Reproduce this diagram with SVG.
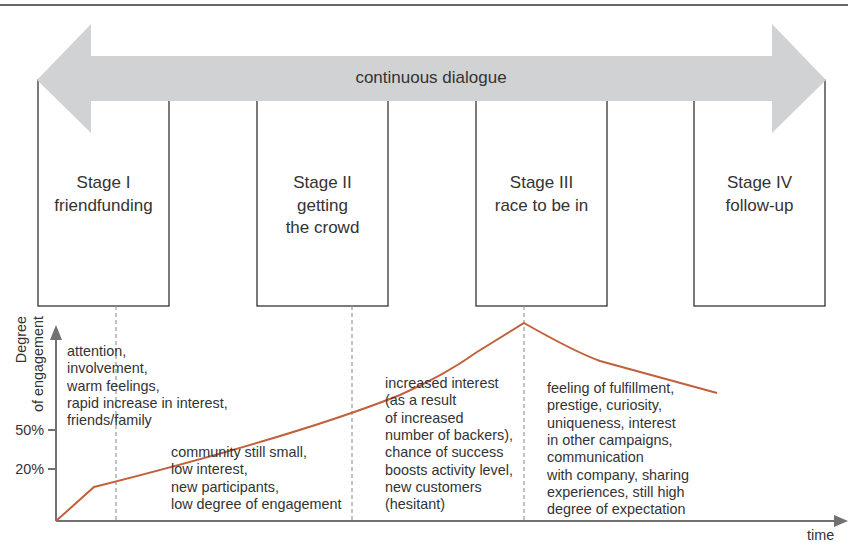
<svg xmlns="http://www.w3.org/2000/svg" width="848" height="558" viewBox="0 0 848 558">
<style>
text{font-family:"Liberation Sans",Arial,sans-serif;fill:#333}
.stage{font-size:17px;text-anchor:middle}
.small{font-size:14.4px}
.box{fill:#fff;stroke:#333;stroke-width:1.3}
.dash{stroke:#9a9a9a;stroke-width:1.2;stroke-dasharray:4,3;fill:none}
.axis{stroke:#707173;stroke-width:2;fill:none}
</style>
<rect width="848" height="558" fill="#fff"/>
<line x1="0" y1="5" x2="848" y2="5" stroke="#333" stroke-width="1.5"/>

<g id="stage1"><rect class="box" x="38" y="80" width="131" height="226"/>
<text class="stage"><tspan x="103.5" y="188">Stage I</tspan><tspan x="103.5" y="211">friendfunding</tspan></text></g>
<g id="stage2"><rect class="box" x="257" y="80" width="131" height="226"/>
<text class="stage"><tspan x="322.5" y="188">Stage II</tspan><tspan x="322.5" y="211">getting</tspan><tspan x="322.5" y="233">the crowd</tspan></text></g>
<g id="stage3"><rect class="box" x="476" y="80" width="131" height="226"/>
<text class="stage"><tspan x="541.5" y="188">Stage III</tspan><tspan x="541.5" y="211">race to be in</tspan></text></g>
<g id="stage4"><rect class="box" x="694" y="80" width="131" height="226"/>
<text class="stage"><tspan x="759.5" y="188">Stage IV</tspan><tspan x="759.5" y="211">follow-up</tspan></text></g>

<g id="dialogue">
<polygon points="37,80 91,24 91,56 772,56 772,24 826,80 772,133 772,101 91,101 91,133" fill="#d1d2d4"/>
<text x="431" y="83" font-size="17" text-anchor="middle">continuous dialogue</text>
</g>

<g id="connectors">
<line class="dash" x1="116" y1="306" x2="116" y2="521"/>
<line class="dash" x1="352" y1="306" x2="352" y2="521"/>
<line class="dash" x1="524" y1="306" x2="524" y2="521"/>
<line class="axis" x1="56" y1="521" x2="56" y2="336"/>
<polygon points="56,325 50,340 62,340" fill="#707173"/>
<line class="axis" x1="56" y1="521" x2="838" y2="521"/>
<polygon points="848,521 834,515 834,527" fill="#707173"/>
<line class="axis" x1="48" y1="430" x2="56" y2="430"/>
<line class="axis" x1="48" y1="469" x2="56" y2="469"/>
<path d="M56,521 L94,487 Q300,435 400,395 Q445,375 477,352 L524,323 Q575,352 600,361 L717,393" fill="none" stroke="#c2603c" stroke-width="2"/>
</g>

<g id="axislabels">
<text class="small" transform="translate(25.5,316) rotate(-90)" text-anchor="end">Degree</text>
<text class="small" transform="translate(43,316) rotate(-90)" text-anchor="end">of engagement</text>
<text class="small" x="44" y="435" text-anchor="end">50%</text>
<text class="small" x="44" y="474" text-anchor="end">20%</text>
<text class="small" x="807" y="540">time</text>
</g>

<g id="notes1"><text class="small"><tspan x="67" y="356">attention,</tspan><tspan x="67" y="373.3">involvement,</tspan><tspan x="67" y="390.6">warm feelings,</tspan><tspan x="67" y="408">rapid increase in interest,</tspan><tspan x="67" y="425.3">friends/family</tspan></text></g>
<g id="notes2"><text class="small"><tspan x="171" y="457">community still small,</tspan><tspan x="171" y="474.3">low interest,</tspan><tspan x="171" y="491.6">new participants,</tspan><tspan x="171" y="509">low degree of engagement</tspan></text></g>
<g id="notes3"><text class="small"><tspan x="385" y="388">increased interest</tspan><tspan x="385" y="405.3">(as a result</tspan><tspan x="385" y="422.6">of increased</tspan><tspan x="385" y="440">number of backers),</tspan><tspan x="385" y="457.3">chance of success</tspan><tspan x="385" y="474.6">boosts activity level,</tspan><tspan x="385" y="492">new customers</tspan><tspan x="385" y="509.3">(hesitant)</tspan></text></g>
<g id="notes4"><text class="small"><tspan x="547" y="393">feeling of fulfillment,</tspan><tspan x="547" y="410.3">prestige, curiosity,</tspan><tspan x="547" y="427.6">uniqueness, interest</tspan><tspan x="547" y="445">in other campaigns,</tspan><tspan x="547" y="462.3">communication</tspan><tspan x="547" y="479.6">with company, sharing</tspan><tspan x="547" y="497">experiences, still high</tspan><tspan x="547" y="514.3">degree of expectation</tspan></text></g>
</svg>
